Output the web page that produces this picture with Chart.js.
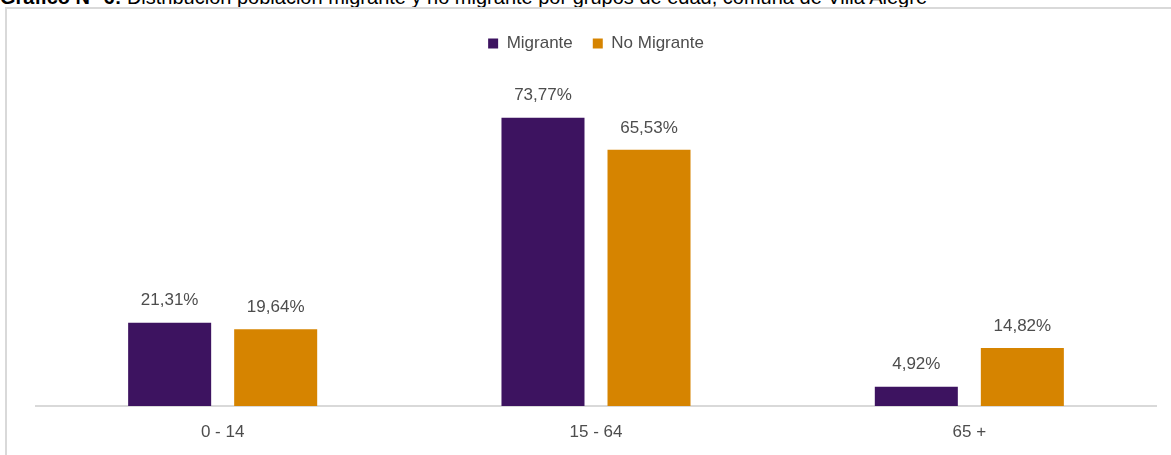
<!DOCTYPE html>
<html>
<head>
<meta charset="utf-8">
<script src="https://cdn.jsdelivr.net/npm/chart.js@4.4.1/dist/chart.umd.min.js"></script>
<style>
  body { margin: 0; background: #fff; overflow: hidden; }
  #title {
    position: absolute; left: 0; top: -13px; white-space: nowrap;
    font-family: 'Liberation Sans', Arial, sans-serif; font-size: 20px; line-height: 20px; color: #000;
  }
  #box {
    position: absolute; left: 5px; top: 7px; width: 1170px; height: 450px;
    border-left: 2px solid #d9d9d9; border-top: 2px solid #d9d9d9;
  }
  #wrap { position: absolute; left: 0; top: 0; width: 1164px; height: 446px; }
</style>
</head>
<body>
<div id="title"><b>Gráfico N° 6:</b> Distribución población migrante y no migrante por grupos de edad, comuna de Villa Alegre</div>
<div id="box"><div id="wrap"><canvas id="grafico"></canvas></div></div>
<script>
const categorias = ['0 - 14', '15 - 64', '65 +'];
const migrante = [21.31, 73.77, 4.92];
const noMigrante = [19.64, 65.53, 14.82];
const series = ['Migrante', 'No Migrante'];

const fuente = "'Liberation Sans', Arial, sans-serif";
const gris = '#4d4d4d';

// etiquetas de porcentaje sobre cada barra
const etiquetas = {
    id: 'etiquetas',
    afterDatasetsDraw(chart) {
        const ctx = chart.ctx;
        ctx.save();
        ctx.font = '17px ' + fuente;
        ctx.fillStyle = gris;
        ctx.textAlign = 'center';
        ctx.textBaseline = 'middle';
        chart.data.datasets.forEach((ds, i) => {
            chart.getDatasetMeta(i).data.forEach((bar, j) => {
                const txt = ds.data[j].toFixed(2).replace('.', ',') + '%';
                ctx.fillText(txt, bar.x, bar.y - 22);
            });
        });
        ctx.restore();
    }
};

new Chart(document.getElementById('grafico'), {
    type: 'bar',
    data: {
        labels: categorias,
        datasets: [{
            label: series[0],
            data: migrante,
            backgroundColor: '#3d1360'
        }, {
            label: series[1],
            data: noMigrante,
            backgroundColor: '#d68400'
        }]
    },
    options: {
        responsive: true,
        maintainAspectRatio: false,
        animation: false,
        categoryPercentage: 0.568,
        barPercentage: 0.783,
        layout: { padding: { left: 29, right: 15, top: 6, bottom: 0 } },
        plugins: {
            legend: {
                position: 'top',
                labels: {
                    boxWidth: 10, boxHeight: 10, padding: 20,
                    color: gris,
                    font: { family: fuente, size: 17 }
                }
            },
            tooltip: { enabled: false }
        },
        scales: {
            x: {
                grid: { display: false, drawTicks: false },
                border: { display: true, color: '#d9d9d9', width: 2 },
                ticks: { color: gris, padding: 16, font: { family: fuente, size: 17 } },
                afterFit(scale) { scale.height = 49; }
            },
            y: {
                display: false,
                min: 0,
                max: 88
            }
        }
    },
    plugins: [etiquetas]
});
</script>
</body>
</html>
